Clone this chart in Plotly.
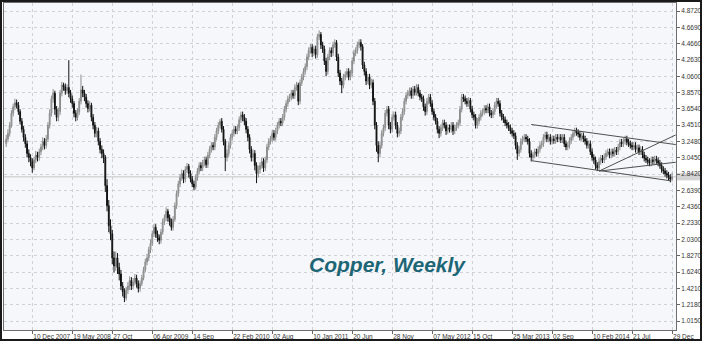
import plotly.graph_objects as go
import pandas as pd

# ---------------- data (weekly copper) ----------------
first_week = "2007-08-27"
first_open = 3.22

closes = [
    3.28, 3.35, 3.45, 3.60, 3.68, 3.73, 3.70, 3.62, 3.50, 3.40,
    3.30, 3.22, 3.10, 3.05, 3.00, 2.92, 3.02, 3.08, 3.05, 3.12,
    3.18, 3.25, 3.20, 3.28, 3.45, 3.60, 3.78, 3.85, 3.65, 3.55,
    3.62, 3.85, 3.95, 3.93, 3.88, 3.92, 3.85, 3.78, 3.72, 3.60,
    3.55, 3.62, 3.75, 3.89, 3.85, 3.80, 3.72, 3.66, 3.70, 3.55,
    3.45, 3.35, 3.38, 3.25, 3.15, 3.10, 3.05, 2.70, 2.45, 2.20,
    2.10, 1.80, 1.70, 1.80, 1.68, 1.60, 1.45, 1.38, 1.30, 1.40,
    1.45, 1.52, 1.45, 1.50, 1.55, 1.48, 1.42, 1.48, 1.55, 1.65,
    1.75, 1.80, 1.90, 1.98, 2.10, 2.18, 2.10, 2.05, 2.02, 2.12,
    2.25, 2.30, 2.38, 2.30, 2.25, 2.18, 2.28, 2.45, 2.60, 2.72,
    2.80, 2.85, 2.78, 2.90, 2.94, 2.85, 2.78, 2.72, 2.68, 2.80,
    2.88, 2.95, 2.92, 2.98, 3.02, 2.96, 3.08, 3.15, 3.20, 3.18,
    3.30, 3.38, 3.45, 3.50, 3.40, 3.25, 3.05, 3.10, 3.20, 3.30,
    3.35, 3.40, 3.38, 3.42, 3.52, 3.58, 3.55, 3.50, 3.40, 3.30,
    3.15, 3.05, 3.10, 2.95, 2.85, 2.90, 2.95, 3.00, 2.92, 3.02,
    3.18, 3.25, 3.28, 3.35, 3.30, 3.38, 3.45, 3.50, 3.48, 3.55,
    3.65, 3.72, 3.78, 3.80, 3.85, 3.82, 3.92, 3.95, 3.75, 3.98,
    4.05, 4.12, 4.18, 4.30, 4.38, 4.42, 4.35, 4.40, 4.33, 4.55,
    4.58, 4.45, 4.40, 4.25, 4.12, 4.30, 4.38, 4.35, 4.45, 4.48,
    4.30, 4.10, 4.00, 3.95, 4.05, 4.08, 4.12, 4.05, 4.10, 4.25,
    4.35, 4.38, 4.45, 4.48, 4.43, 4.20, 4.12, 4.00, 4.05, 3.95,
    3.98, 3.75, 3.45, 3.20, 3.10, 3.20, 3.35, 3.42, 3.60, 3.65,
    3.45, 3.40, 3.55, 3.58, 3.45, 3.35, 3.38, 3.55, 3.62, 3.75,
    3.82, 3.85, 3.88, 3.82, 3.90, 3.86, 3.92, 3.85, 3.80, 3.78,
    3.68, 3.62, 3.75, 3.80, 3.72, 3.62, 3.55, 3.50, 3.40, 3.35,
    3.42, 3.48, 3.45, 3.38, 3.42, 3.40, 3.45, 3.38, 3.42, 3.45,
    3.48, 3.65, 3.80, 3.78, 3.75, 3.72, 3.76, 3.65, 3.58, 3.55,
    3.45, 3.50, 3.55, 3.60, 3.62, 3.66, 3.64, 3.68, 3.60, 3.58,
    3.62, 3.70, 3.75, 3.72, 3.60, 3.55, 3.52, 3.48, 3.45, 3.42,
    3.38, 3.35, 3.32, 3.20, 3.10, 3.15, 3.25, 3.28, 3.30, 3.28,
    3.25, 3.10, 3.05, 3.08, 3.12, 3.10, 3.15, 3.20, 3.22, 3.30,
    3.33, 3.28, 3.30, 3.25, 3.28, 3.26, 3.30, 3.28, 3.30, 3.27,
    3.30, 3.22, 3.18, 3.20, 3.26, 3.30, 3.35, 3.38, 3.36, 3.34,
    3.30, 3.32, 3.28, 3.25, 3.20, 3.22, 3.12, 3.05, 3.02, 2.95,
    2.92, 3.00, 3.04, 3.02, 3.06, 3.10, 3.12, 3.08, 3.12, 3.10,
    3.14, 3.12, 3.18, 3.24, 3.22, 3.25, 3.28, 3.24, 3.22, 3.20,
    3.18, 3.20, 3.15, 3.17, 3.12, 3.15, 3.08, 3.04, 3.02, 3.00,
    2.98, 3.02, 3.00, 3.03, 3.01, 2.98, 2.95, 2.90, 2.88, 2.85,
    2.83, 2.80, 2.78, 2.81,
]

highs = [
    3.33, 3.40, 3.49, 3.64, 3.72, 3.78, 3.77, 3.74, 3.65, 3.54,
    3.44, 3.34, 3.26, 3.15, 3.09, 3.04, 3.06, 3.13, 3.12, 3.16,
    3.22, 3.30, 3.29, 3.33, 3.49, 3.65, 3.82, 3.90, 3.88, 3.69,
    3.67, 3.89, 3.99, 3.98, 3.97, 3.96, 4.26, 3.89, 3.82, 3.75,
    3.64, 3.66, 3.79, 4.08, 3.94, 3.89, 3.84, 3.76, 3.75, 3.73,
    3.59, 3.49, 3.43, 3.42, 3.29, 3.20, 3.15, 3.08, 2.78, 2.52,
    2.28, 2.15, 1.88, 1.88, 1.86, 1.74, 1.65, 1.50, 1.42, 1.44,
    1.50, 1.57, 1.56, 1.55, 1.60, 1.59, 1.52, 1.52, 1.59, 1.69,
    1.79, 1.85, 1.94, 2.03, 2.14, 2.22, 2.22, 2.14, 2.09, 2.16,
    2.29, 2.34, 2.43, 2.41, 2.34, 2.29, 2.32, 2.49, 2.64, 2.76,
    2.84, 2.90, 2.89, 2.94, 2.98, 2.97, 2.89, 2.82, 2.76, 2.84,
    2.92, 2.99, 2.99, 3.02, 3.06, 3.06, 3.12, 3.19, 3.24, 3.24,
    3.34, 3.42, 3.49, 3.53, 3.54, 3.44, 3.28, 3.15, 3.24, 3.34,
    3.39, 3.44, 3.44, 3.46, 3.56, 3.62, 3.62, 3.59, 3.54, 3.44,
    3.34, 3.19, 3.15, 3.14, 2.99, 2.95, 2.99, 3.05, 3.04, 3.06,
    3.22, 3.29, 3.32, 3.39, 3.39, 3.42, 3.49, 3.54, 3.54, 3.59,
    3.69, 3.76, 3.82, 3.84, 3.89, 3.89, 3.96, 3.99, 3.98, 4.02,
    4.09, 4.16, 4.22, 4.34, 4.42, 4.46, 4.46, 4.44, 4.44, 4.59,
    4.63, 4.61, 4.49, 4.44, 4.29, 4.34, 4.42, 4.42, 4.49, 4.52,
    4.51, 4.34, 4.14, 4.04, 4.09, 4.12, 4.16, 4.16, 4.14, 4.29,
    4.39, 4.42, 4.49, 4.52, 4.52, 4.46, 4.24, 4.16, 4.09, 4.09,
    4.03, 4.02, 3.79, 3.49, 3.25, 3.25, 3.39, 3.46, 3.64, 3.69,
    3.69, 3.49, 3.59, 3.62, 3.62, 3.49, 3.42, 3.59, 3.66, 3.79,
    3.86, 3.89, 3.92, 3.92, 3.94, 3.94, 3.96, 3.96, 3.89, 3.84,
    3.82, 3.72, 3.79, 3.84, 3.84, 3.76, 3.66, 3.59, 3.54, 3.44,
    3.46, 3.52, 3.52, 3.49, 3.46, 3.46, 3.49, 3.49, 3.46, 3.49,
    3.52, 3.69, 3.84, 3.84, 3.82, 3.79, 3.80, 3.79, 3.69, 3.62,
    3.59, 3.54, 3.59, 3.64, 3.66, 3.70, 3.70, 3.72, 3.72, 3.64,
    3.66, 3.74, 3.79, 3.79, 3.76, 3.64, 3.59, 3.56, 3.52, 3.49,
    3.46, 3.42, 3.39, 3.36, 3.24, 3.19, 3.29, 3.32, 3.34, 3.34,
    3.32, 3.29, 3.14, 3.12, 3.16, 3.16, 3.19, 3.24, 3.26, 3.34,
    3.37, 3.37, 3.34, 3.34, 3.32, 3.32, 3.34, 3.34, 3.34, 3.34,
    3.34, 3.34, 3.26, 3.24, 3.30, 3.34, 3.39, 3.42, 3.42, 3.40,
    3.38, 3.36, 3.36, 3.32, 3.29, 3.26, 3.26, 3.16, 3.09, 3.06,
    2.99, 3.04, 3.08, 3.08, 3.10, 3.14, 3.16, 3.16, 3.16, 3.16,
    3.18, 3.18, 3.22, 3.28, 3.28, 3.29, 3.32, 3.32, 3.28, 3.26,
    3.24, 3.24, 3.24, 3.21, 3.21, 3.19, 3.19, 3.12, 3.08, 3.06,
    3.04, 3.06, 3.06, 3.07, 3.07, 3.05, 3.02, 2.99, 2.94, 2.92,
    2.89, 2.87, 2.84, 2.86,
]

lows = [
    3.18, 3.24, 3.31, 3.42, 3.56, 3.64, 3.66, 3.58, 3.46, 3.36,
    3.25, 3.17, 3.05, 2.99, 2.94, 2.86, 2.89, 2.98, 3.00, 3.01,
    3.08, 3.14, 3.15, 3.16, 3.25, 3.41, 3.56, 3.73, 3.58, 3.50,
    3.50, 3.58, 3.81, 3.88, 3.83, 3.84, 3.80, 3.73, 3.67, 3.55,
    3.50, 3.51, 3.58, 3.71, 3.80, 3.75, 3.67, 3.61, 3.62, 3.50,
    3.40, 3.30, 3.30, 3.20, 3.10, 3.04, 2.98, 2.62, 2.38, 2.12,
    2.02, 1.72, 1.62, 1.64, 1.60, 1.52, 1.40, 1.32, 1.25, 1.27,
    1.35, 1.40, 1.40, 1.41, 1.46, 1.43, 1.37, 1.38, 1.45, 1.52,
    1.62, 1.71, 1.76, 1.86, 1.95, 2.06, 2.05, 2.00, 1.97, 1.98,
    2.09, 2.21, 2.26, 2.25, 2.20, 2.14, 2.14, 2.25, 2.41, 2.56,
    2.68, 2.76, 2.73, 2.74, 2.86, 2.80, 2.74, 2.68, 2.64, 2.65,
    2.76, 2.84, 2.88, 2.88, 2.94, 2.92, 2.92, 3.04, 3.11, 3.14,
    3.14, 3.26, 3.34, 3.41, 3.36, 3.20, 2.88, 3.00, 3.06, 3.16,
    3.26, 3.31, 3.34, 3.34, 3.38, 3.48, 3.50, 3.45, 3.35, 3.25,
    3.10, 3.00, 3.00, 2.89, 2.73, 2.80, 2.85, 2.91, 2.87, 2.88,
    2.98, 3.14, 3.21, 3.24, 3.26, 3.26, 3.34, 3.41, 3.44, 3.44,
    3.51, 3.61, 3.68, 3.74, 3.76, 3.78, 3.78, 3.88, 3.70, 3.71,
    3.94, 4.01, 4.08, 4.14, 4.26, 4.34, 4.30, 4.31, 4.28, 4.29,
    4.51, 4.40, 4.35, 4.20, 4.06, 4.08, 4.26, 4.30, 4.31, 4.41,
    4.25, 4.05, 3.95, 3.85, 3.91, 4.01, 4.04, 4.01, 4.01, 4.06,
    4.21, 4.31, 4.34, 4.41, 4.38, 4.15, 4.07, 3.95, 3.96, 3.90,
    3.91, 3.70, 3.40, 3.12, 2.99, 3.05, 3.16, 3.31, 3.38, 3.56,
    3.40, 3.35, 3.36, 3.51, 3.40, 3.30, 3.31, 3.34, 3.51, 3.58,
    3.71, 3.78, 3.81, 3.78, 3.78, 3.82, 3.82, 3.81, 3.76, 3.74,
    3.63, 3.57, 3.58, 3.71, 3.68, 3.58, 3.51, 3.46, 3.35, 3.29,
    3.31, 3.38, 3.41, 3.33, 3.34, 3.36, 3.36, 3.33, 3.34, 3.38,
    3.41, 3.44, 3.61, 3.74, 3.71, 3.68, 3.68, 3.61, 3.54, 3.51,
    3.41, 3.41, 3.46, 3.51, 3.56, 3.58, 3.60, 3.60, 3.56, 3.54,
    3.54, 3.58, 3.66, 3.68, 3.56, 3.51, 3.48, 3.44, 3.41, 3.38,
    3.34, 3.31, 3.28, 3.15, 3.02, 3.06, 3.11, 3.21, 3.24, 3.24,
    3.21, 3.05, 3.00, 3.01, 3.04, 3.06, 3.06, 3.11, 3.16, 3.18,
    3.26, 3.24, 3.24, 3.21, 3.21, 3.22, 3.22, 3.24, 3.24, 3.23,
    3.23, 3.18, 3.14, 3.14, 3.16, 3.22, 3.26, 3.31, 3.32, 3.30,
    3.26, 3.26, 3.24, 3.21, 3.16, 3.16, 3.08, 3.01, 2.97, 2.90,
    2.88, 2.89, 2.96, 2.98, 2.98, 3.02, 3.06, 3.04, 3.04, 3.06,
    3.06, 3.08, 3.08, 3.14, 3.18, 3.18, 3.21, 3.20, 3.18, 3.16,
    3.14, 3.14, 3.11, 3.11, 3.08, 3.08, 3.04, 3.00, 2.98, 2.96,
    2.94, 2.94, 2.96, 2.96, 2.97, 2.94, 2.91, 2.86, 2.84, 2.81,
    2.79, 2.76, 2.74, 2.75,
]

# trend lines drawn on the chart (date, price) pairs
channel_top_dates = ["2013-06-10", "2015-01-13"]
channel_top_prices = [3.46, 3.21]
channel_bottom_dates = ["2013-06-10", "2014-12-22"]
channel_bottom_prices = [3.01, 2.76]
support_steep_dates = ["2014-03-10", "2015-01-13"]
support_steep_prices = [2.88, 3.33]
support_flat_dates = ["2014-03-10", "2015-01-13"]
support_flat_prices = [2.88, 2.99]

# axis ticks
x_tick_dates = [
    "2007-12-10", "2008-05-19", "2008-10-27", "2009-04-06", "2009-09-14",
    "2010-02-22", "2010-08-02", "2011-01-10", "2011-06-20", "2011-11-28",
    "2012-05-07", "2012-10-15", "2013-03-25", "2013-09-02", "2014-02-10",
    "2014-07-21", "2014-12-29",
]
x_tick_labels = [
    "10 Dec 2007", "19 May 2008", "27 Oct", "06 Apr 2009", "14 Sep",
    "22 Feb 2010", "02 Aug", "10 Jan 2011", "20 Jun", "28 Nov",
    "07 May 2012", "15 Oct", "25 Mar 2013", "02 Sep", "10 Feb 2014",
    "21 Jul", "29 Dec",
]
y_tick_labels = [
    "4.8720", "4.6690", "4.4660", "4.2630", "4.0600", "3.8570", "3.6540",
    "3.4510", "3.2480", "3.0450", "2.8420", "2.6390", "2.4360", "2.2330",
    "2.0300", "1.8270", "1.6240", "1.4210", "1.2180", "1.0150",
]
title_text = "Copper, Weekly"

# ---------------- figure ----------------
weeks = pd.date_range(first_week, periods=len(closes), freq="7D")
opens = [first_open] + closes[:-1]

fig = go.Figure()
fig.add_trace(go.Candlestick(
    x=weeks, open=opens, high=highs, low=lows, close=closes,
    increasing=dict(line=dict(color="#8c8c8c", width=1), fillcolor="#b4b4b4"),
    decreasing=dict(line=dict(color="#111111", width=1), fillcolor="#111111"),
    whiskerwidth=0, hoverinfo="skip", showlegend=False,
))

for xs, ys in [
    (channel_top_dates, channel_top_prices),
    (channel_bottom_dates, channel_bottom_prices),
    (support_steep_dates, support_steep_prices),
    (support_flat_dates, support_flat_prices),
]:
    fig.add_trace(go.Scatter(
        x=xs, y=ys, mode="lines",
        line=dict(color="#505050", width=1),
        hoverinfo="skip", showlegend=False,
    ))

tick_font = dict(family="Liberation Sans Narrow, Liberation Sans, Arial, sans-serif",
                 size=6.5, color="#333333")

fig.update_layout(
    width=702, height=341,
    margin=dict(l=4, r=26, t=3, b=11, pad=0, autoexpand=False),
    paper_bgcolor="#ffffff",
    plot_bgcolor="#f6f7fb",
    showlegend=False,
    xaxis=dict(
        type="date",
        range=["2007-08-18 02:00", "2015-01-13 22:00"],
        tickmode="array", tickvals=x_tick_dates, ticktext=x_tick_labels,
        ticklabelposition="outside right", tickangle=0, automargin=False,
        ticks="outside", ticklen=3, tickcolor="#666666",
        showgrid=True, gridcolor="#cfd0d8", griddash="dot", gridwidth=1,
        showline=True, linecolor="#6e6e6e", linewidth=1, mirror=True,
        tickfont=tick_font, rangeslider=dict(visible=False),
        zeroline=False, fixedrange=True,
    ),
    yaxis=dict(
        side="right", automargin=False,
        range=[0.903, 4.9715],
        tickmode="array",
        tickvals=[float(v) for v in y_tick_labels], ticktext=y_tick_labels,
        ticks="outside", ticklen=3, tickcolor="#666666",
        showgrid=True, gridcolor="#cfd0d8", griddash="dot", gridwidth=1,
        showline=True, linecolor="#6e6e6e", linewidth=1, mirror=True,
        tickfont=tick_font, zeroline=False, fixedrange=True,
    ),
)

last_close = closes[-1]
# current price line and price box
fig.add_shape(type="line", xref="paper", x0=0, x1=1, yref="y",
              y0=last_close, y1=last_close,
              line=dict(color="#d6d6d6", width=1.5), layer="below")
fig.add_shape(type="rect", xref="paper", x0=1.0, x1=1.0 + 24 / 672, yref="y",
              y0=last_close - 0.045, y1=last_close + 0.045,
              fillcolor="#c8c8c8", line=dict(width=0), layer="below", opacity=0.8)

# outer frame
fig.add_shape(type="rect", xref="paper", yref="paper",
              x0=-3 / 672, x1=697 / 672, y0=(327 - 337) / 327, y1=(327 + 2) / 327,
              line=dict(color="#1a1a1a", width=2), fillcolor="rgba(0,0,0,0)")

fig.add_annotation(
    text="<b><i>" + title_text + "</i></b>",
    xref="paper", yref="paper", x=0.571, y=0.2,
    xanchor="center", yanchor="middle", showarrow=False,
    font=dict(family="Liberation Sans, Arial, sans-serif", size=21, color="#1d6676"),
)

fig.write_html("out.html", config={"displayModeBar": False})
